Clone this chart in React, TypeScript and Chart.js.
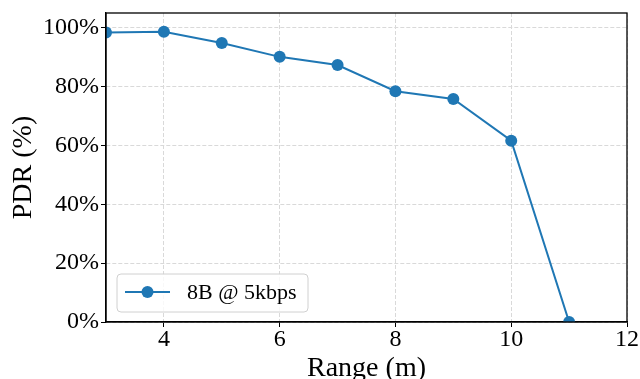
import React, { useEffect, useRef } from 'react';
import { Chart, registerables } from 'chart.js';

Chart.register(...registerables);

const ranges = [3, 4, 5, 6, 7, 8, 9, 10, 11];
const pdrValues = [98.4, 98.6, 94.8, 90.1, 87.3, 78.4, 75.8, 61.6, 0];
const xTicks = [4, 6, 8, 10, 12];
const yTicks = [0, 20, 40, 60, 80, 100];
const seriesLabel = '8B @ 5kbps';
const xTitle = 'Range (m)';
const yTitle = 'PDR (%)';

const FONT = "'Liberation Serif', 'Times New Roman', serif";
const BLUE = '#1f77b4';

const framePlugin = {
  id: 'frameAndLegend',
  afterDatasetsDraw(chart: any) {
    const { ctx, chartArea: a } = chart;
    ctx.save();
    ctx.strokeStyle = '#000';
    ctx.lineWidth = 1.3;
    ctx.strokeRect(a.left, a.top, a.right - a.left, a.bottom - a.top);

    // legend box (lower left)
    const bx = a.left + 11;
    const by = a.bottom - 48;
    const bw = 191;
    const bh = 38;
    ctx.beginPath();
    if (ctx.roundRect) ctx.roundRect(bx, by, bw, bh, 4);
    else ctx.rect(bx, by, bw, bh);
    ctx.fillStyle = 'rgba(255,255,255,0.8)';
    ctx.fill();
    ctx.strokeStyle = '#d0d0d0';
    ctx.lineWidth = 1;
    ctx.stroke();

    const cy = by + 18;
    ctx.beginPath();
    ctx.moveTo(bx + 8, cy);
    ctx.lineTo(bx + 53, cy);
    ctx.strokeStyle = BLUE;
    ctx.lineWidth = 2;
    ctx.stroke();
    ctx.beginPath();
    ctx.arc(bx + 30.5, cy, 6, 0, Math.PI * 2);
    ctx.fillStyle = BLUE;
    ctx.fill();

    ctx.fillStyle = '#000';
    ctx.font = `22px ${FONT}`;
    ctx.textBaseline = 'middle';
    ctx.textAlign = 'left';
    ctx.fillText(seriesLabel, bx + 70, cy + 1);
    ctx.restore();
  },
};

const zeroPad = (s: any) => {
  s.paddingTop = 0;
  s.paddingBottom = 0;
  s.paddingLeft = 0;
  s.paddingRight = 0;
};

export default function App() {
  const canvasRef = useRef<HTMLCanvasElement | null>(null);

  useEffect(() => {
    if (!canvasRef.current) return;
    const chart = new Chart(canvasRef.current, {
      type: 'line',
      data: {
        datasets: [
          {
            label: seriesLabel,
            data: ranges.map((x, i) => ({ x, y: pdrValues[i] })),
            borderColor: BLUE,
            backgroundColor: BLUE,
            borderWidth: 2,
            pointRadius: 6,
            pointHoverRadius: 6,
            pointBorderWidth: 0,
            pointBackgroundColor: BLUE,
            tension: 0,
            clip: 0,
          } as any,
        ],
      },
      options: {
        animation: false,
        responsive: true,
        maintainAspectRatio: false,
        layout: { padding: { top: 13, right: 13, left: 0, bottom: 0 } },
        plugins: {
          legend: { display: false },
          tooltip: { enabled: false },
        },
        scales: {
          x: {
            type: 'linear',
            min: 3,
            max: 12,
            afterBuildTicks: (s: any) => {
              s.ticks = xTicks.map((v) => ({ value: v }));
            },
            afterFit: (s: any) => {
              s.height = 57;
              zeroPad(s);
            },
            ticks: {
              font: { family: FONT, size: 24 },
              color: '#000',
              padding: -2,
              maxRotation: 0,
              autoSkip: false,
              callback: (v: any) => String(v),
            },
            grid: {
              color: '#d9d9d9',
              tickColor: '#000',
              tickLength: 5,
              tickBorderDash: [],
              lineWidth: 1,
            } as any,
            border: { color: '#000', dash: [4, 2], width: 1.3 },
            title: {
              display: true,
              text: xTitle,
              color: '#000',
              font: { family: FONT, size: 28 },
              padding: { top: 0, bottom: -6 },
            },
          },
          y: {
            type: 'linear',
            min: 0,
            max: 105,
            afterBuildTicks: (s: any) => {
              s.ticks = yTicks.map((v) => ({ value: v }));
            },
            afterFit: (s: any) => {
              s.width = 106;
              zeroPad(s);
            },
            ticks: {
              font: { family: FONT, size: 24 },
              color: '#000',
              padding: 2,
              autoSkip: false,
              callback: (v: any) => `${v}%`,
            },
            grid: {
              color: '#d9d9d9',
              tickColor: '#000',
              tickLength: 5,
              tickBorderDash: [],
              lineWidth: 1,
            } as any,
            border: { color: '#000', dash: [4, 2], width: 1.3 },
            title: {
              display: true,
              text: yTitle,
              color: '#000',
              font: { family: FONT, size: 28 },
              padding: { top: 7, bottom: 0 },
            },
          },
        },
      },
      plugins: [framePlugin],
    });
    return () => chart.destroy();
  }, []);

  return (
    <div style={{ position: 'fixed', left: 0, top: 0, width: 640, height: 379, background: '#fff' }}>
      <canvas ref={canvasRef} />
    </div>
  );
}
